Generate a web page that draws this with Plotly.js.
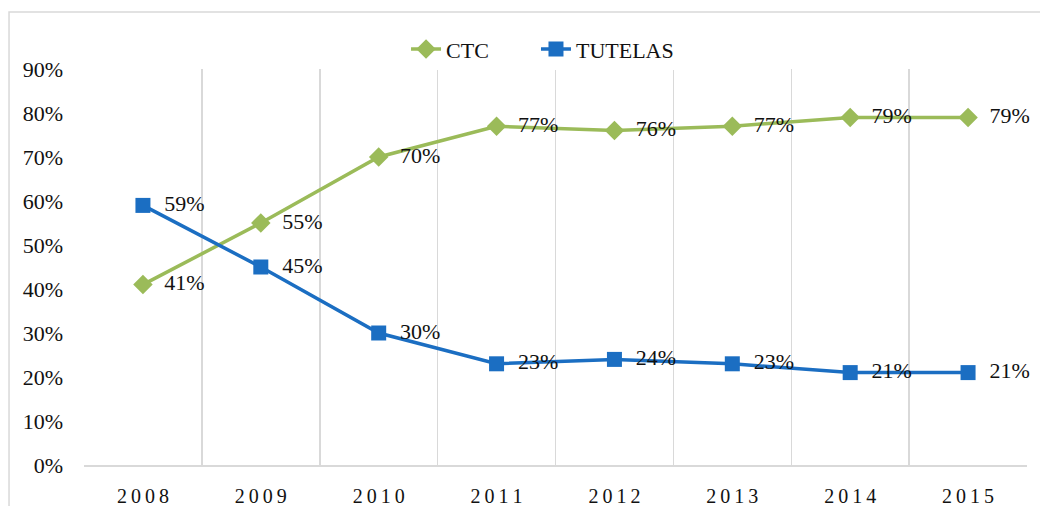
<!DOCTYPE html>
<html>
<head>
<meta charset="utf-8">
<script src="https://cdn.plot.ly/plotly-3.0.1.min.js"></script>
<style>
  body { margin: 0; background: #fff; }
  #chart { width: 1040px; height: 506px; }
</style>
</head>
<body>
<div id="chart"></div>
<script>
// years and shares (percent)
const years = [2008, 2009, 2010, 2011, 2012, 2013, 2014, 2015];
const ctc = [41, 55, 70, 77, 76, 77, 79, 79];
const tutelas = [59, 45, 30, 23, 24, 23, 21, 21];
const yearLabels = years.map(y => String(y).split('').join('\u2009'));

const serif = 'Liberation Serif, Times New Roman, serif';

// label with a small gap to the right of the marker, like the original
const pct = v => '\u2002' + v + '%';

const ctcTrace = {
  x: years,
  y: ctc,
  name: 'CTC',
  legend: 'legend',
  type: 'scatter',
  mode: 'lines+markers+text',
  text: ctc.map(pct),
  textposition: 'middle right',
  textfont: { family: serif, size: 22, color: '#111' },
  line: { color: '#9BBB59', width: 3.5 },
  marker: { symbol: 'diamond', size: 15, color: '#9BBB59' },
  cliponaxis: false
};

const tutelasTrace = {
  x: years,
  y: tutelas,
  name: 'TUTELAS',
  legend: 'legend2',
  type: 'scatter',
  mode: 'lines+markers+text',
  text: tutelas.map(pct),
  textposition: 'middle right',
  textfont: { family: serif, size: 22, color: '#111' },
  line: { color: '#1B6EC2', width: 3.5 },
  marker: { symbol: 'square', size: 15, color: '#1B6EC2' },
  cliponaxis: false
};

const legendStyle = {
  orientation: 'h',
  xanchor: 'left',
  y: 1.05, yanchor: 'middle',
  font: { family: serif, size: 22, color: '#111' }
};

const layout = {
  width: 1040,
  height: 506,
  margin: { l: 84, r: 13, t: 69, b: 41 },
  paper_bgcolor: '#fff',
  plot_bgcolor: '#fff',
  font: { family: serif, size: 22, color: '#111' },
  showlegend: true,
  legend: Object.assign({ x: 0.3415 }, legendStyle),
  legend2: Object.assign({ x: 0.4793 }, legendStyle),
  xaxis: {
    range: [2007.5, 2015.5],
    tickvals: years,
    ticktext: yearLabels,
    tickfont: { family: serif, size: 20, color: '#111' },
    showgrid: false,
    zeroline: false,
    showline: true,
    linecolor: '#D9D9D9',
    linewidth: 1.5,
    ticks: '',
    ticklabelstandoff: 12,
    minor: { tick0: 2007.5, dtick: 1, showgrid: true, gridcolor: '#D9D9D9', gridwidth: 1.5 }
  },
  yaxis: {
    range: [0, 90],
    dtick: 10,
    ticksuffix: '%',
    tickfont: { family: serif, size: 22, color: '#111' },
    showgrid: false,
    zeroline: false,
    showline: false,
    ticks: '',
    ticklabelstandoff: 20
  },
  shapes: [{
    type: 'rect', xref: 'paper', yref: 'paper',
    x0: -0.0795, x1: 1.2, y0: -0.3, y1: 1.144,
    line: { color: '#D9D9D9', width: 1.5 },
    layer: 'below'
  }]
};

Plotly.newPlot('chart', [ctcTrace, tutelasTrace], layout, { displayModeBar: false, staticPlot: true });
</script>
</body>
</html>
